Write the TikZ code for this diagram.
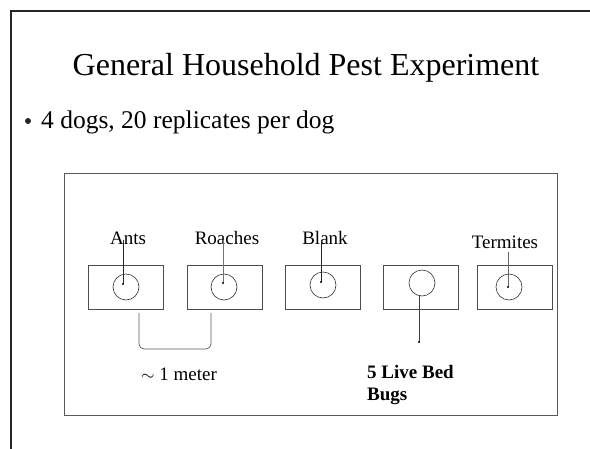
\documentclass[tikz,border=0pt]{standalone}
\usepackage{fontspec}
\setmainfont{Liberation Serif}
\begin{document}
\begin{tikzpicture}[x=1pt,y=1pt,
  trap/.style={draw=black!70, line width=0.8pt, minimum width=75pt, minimum height=44pt, inner sep=0pt},
  cup/.style={draw=black!80, line width=0.6pt, circle, minimum size=26pt, inner sep=0pt},
  lbl/.style={font=\fontsize{19}{22}\selectfont, anchor=base, inner sep=0pt},
  lead/.style={draw=black!85, line width=0.9pt},
  tipdot/.style={fill=black, circle, inner sep=0pt, minimum size=2.2pt}]
\useasboundingbox (0,0) rectangle (590,-448);
\fill[white] (0,0) rectangle (590,-448);
% outer slide frame
\draw[line width=2.4pt, black!85] (11,-470) -- (11,-11) -- (610,-11);
% title
\node[anchor=base, inner sep=0pt, font=\fontsize{32}{36}\selectfont] (title) at (306,-75) {General Household Pest Experiment};
\node[circle, fill=black!85, inner sep=0pt, minimum size=6pt] (bul) at (28,-121) {};
\node[anchor=base west, inner sep=0pt, font=\fontsize{25.5}{28}\selectfont] (btext) at (41,-128) {4 dogs, 20 replicates per dog};
% inner frame
\draw[line width=1pt, black!65] (64,-173) rectangle (557,-415);
% traps
\node[trap] (b1) at (125.5,-287) {};
\node[trap] (b2) at (224.5,-287) {};
\node[trap] (b3) at (323,-287) {};
\node[trap] (b4) at (421,-287) {};
\node[trap] (b5) at (515,-287) {};
\node[cup] (c1) at (126,-287) {};
\node[cup] (c2) at (224,-287) {};
\node[cup] (c3) at (323,-285) {};
\node[cup] (c4) at (422,-283) {};
\node[cup] (c5) at (509,-287) {};
% labels
\node[lbl] (ants) at (128,-244) {Ants};
\node[lbl] (roach) at (227,-244) {Roaches};
\node[lbl] (blank) at (325,-244) {Blank};
\node[lbl] (term) at (505,-248) {Termites};
% leader lines
\coordinate (a1) at (123,-240); \coordinate (a2) at (123,-284);
\coordinate (r1) at (223,-240); \coordinate (r2) at (223,-283);
\coordinate (k1) at (321,-240); \coordinate (k2) at (321,-282);
\coordinate (t1) at (508,-252); \coordinate (t2) at (508,-287);
\coordinate (g1) at (419,-296); \coordinate (g2) at (419,-342);
\draw[lead] (a1) -- (a2);
\draw[lead, black!55] (r1) -- (r2);
\draw[lead] (k1) -- (k2);
\draw[lead, black!60] (t1) -- (t2);
\draw[lead, black!75] (g1) -- (g2);
\foreach \p in {a2,r2,k2,t2,g2} \node[tipdot] at (\p) {};
% bracket
\coordinate (m1) at (139,-313); \coordinate (m2) at (211,-313);
\draw[line width=0.7pt, black!65, rounded corners=5pt] (m1) -- (139,-349) -- (211,-349) -- (m2);
\node[lbl] (meter) at (179,-380) {$\sim$ 1 meter};
% bed bugs
\node[anchor=base west, inner sep=0pt, align=left, font=\fontsize{19}{22}\selectfont\bfseries] (bugs) at (367,-400) {5 Live Bed\\Bugs};
\end{tikzpicture}
\end{document}
